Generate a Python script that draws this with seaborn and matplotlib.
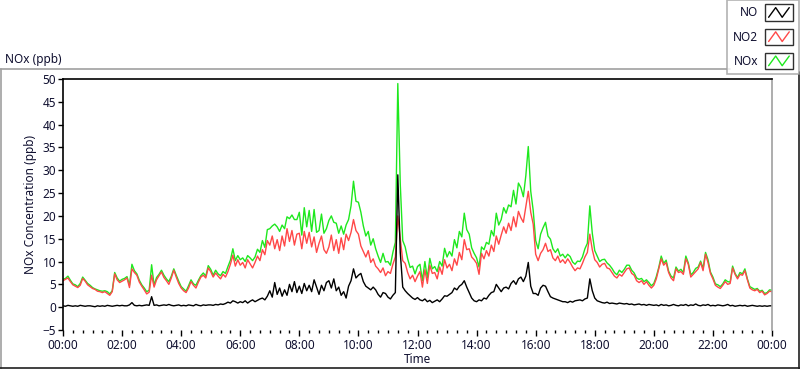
import numpy as np
import pandas as pd
import matplotlib
matplotlib.use("Agg")
import matplotlib.pyplot as plt
import seaborn as sns
from matplotlib.lines import Line2D
from matplotlib.patches import Rectangle
from matplotlib.legend_handler import HandlerBase
from matplotlib.ticker import MultipleLocator, FuncFormatter

sns.set_style("white")
plt.rcParams['font.family'] = ['Noto Sans', 'DejaVu Sans']
plt.rcParams['font.size'] = 8.5

# 5-minute readings, one row per hour (00:00 .. 23:55) plus the closing 24:00 value
no2 = [
    5.8, 6.1, 6.4, 5.6, 4.9, 4.6, 4.3, 4.8, 6.3, 5.7, 4.9, 4.5,
    4.1, 3.9, 3.5, 3.4, 3.2, 3.4, 3.0, 2.6, 3.4, 7.3, 6.0, 5.4,
    5.7, 6.0, 6.4, 4.3, 8.4, 7.6, 7.0, 5.5, 4.6, 3.8, 2.9, 3.3,
    7.0, 4.4, 6.0, 6.9, 7.7, 6.5, 5.8, 5.0, 6.4, 8.1, 6.6, 5.2,
    4.2, 3.6, 3.2, 4.2, 5.6, 4.8, 4.2, 5.5, 6.6, 7.0, 6.4, 8.6,
    7.8, 6.6, 7.5, 6.8, 6.2, 7.2, 6.6, 7.8, 9.4, 11.4, 9.0, 10.4,
    9.2, 9.8, 8.6, 10.4, 9.5, 8.6, 9.8, 11.2, 10.2, 12.6, 11.5, 14.6,
    13.6, 15.6, 12.8, 14.8, 12.4, 15.6, 13.4, 17.2, 14.4, 16.8, 13.6, 16.0,
    16.2, 12.8, 16.6, 14.0, 16.4, 13.2, 15.4, 12.0, 14.0, 15.6, 12.6, 11.8,
    13.2, 15.8, 12.4, 14.8, 11.8, 15.2, 12.6, 16.0, 14.6, 16.4, 19.2, 16.8,
    16.0, 13.4, 12.2, 11.0, 12.4, 9.8, 10.6, 9.0, 8.4, 7.6, 8.6, 6.9,
    7.8, 7.4, 9.4, 11.0, 20.0, 15.0, 10.2, 9.6, 7.6, 6.2, 7.0, 5.6,
    6.8, 7.8, 4.4, 8.2, 5.2, 9.2, 7.4, 7.6, 6.2, 8.8, 7.2, 10.4,
    8.6, 9.4, 8.0, 10.6, 9.2, 12.0, 10.4, 14.8, 12.6, 12.8, 11.0, 10.4,
    9.6, 7.2, 11.8, 10.6, 12.4, 11.2, 13.6, 12.2, 15.6, 13.8, 15.8, 17.6,
    16.2, 18.4, 16.8, 19.8, 17.6, 21.0, 19.6, 18.6, 22.0, 25.4, 20.8, 18.2,
    11.6, 10.2, 11.8, 12.6, 14.0, 12.2, 12.6, 10.8, 10.2, 11.2, 9.8, 10.4,
    9.6, 10.6, 9.8, 8.8, 8.0, 8.6, 8.4, 9.6, 11.0, 12.0, 16.0, 12.6,
    10.4, 9.8, 8.8, 9.4, 9.6, 8.6, 8.4, 7.6, 6.8, 6.4, 7.2, 6.8,
    7.6, 8.4, 8.6, 7.4, 7.0, 5.8, 5.4, 5.8, 5.0, 5.6, 4.8, 4.2,
    4.8, 6.2, 8.4, 10.6, 9.2, 9.8, 7.6, 6.4, 5.8, 8.4, 7.6, 7.8,
    7.2, 10.6, 9.4, 6.6, 7.2, 7.8, 8.4, 9.8, 8.0, 11.6, 9.8, 7.4,
    6.2, 4.8, 4.4, 4.1, 4.8, 5.6, 5.0, 5.2, 8.6, 7.2, 6.2, 7.2,
    7.0, 8.0, 6.0, 4.2, 3.8, 3.6, 3.9, 3.2, 3.5, 2.7, 3.0, 3.5,
    3.4,
]

no = [
    0.3, 0.2, 0.4, 0.3, 0.2, 0.3, 0.2, 0.4, 0.3, 0.2, 0.3, 0.3,
    0.2, 0.1, 0.3, 0.2, 0.3, 0.2, 0.4, 0.3, 0.2, 0.3, 0.4, 0.3,
    0.4, 0.3, 0.3, 0.5, 1.0, 0.4, 0.3, 0.4, 0.3, 0.4, 0.5, 0.4,
    2.3, 0.4, 0.5, 0.3, 0.4, 0.5, 0.4, 0.6, 0.4, 0.3, 0.4, 0.5,
    0.3, 0.4, 0.3, 0.5, 0.4, 0.3, 0.6, 0.4, 0.3, 0.5, 0.4, 0.5,
    0.5, 0.4, 0.6, 0.5, 0.7, 0.6, 0.8, 1.1, 0.9, 1.4, 1.2, 0.9,
    1.2, 1.0, 1.4, 0.9, 1.3, 1.6, 1.2, 1.5, 1.8, 2.0, 1.6, 2.4,
    3.6, 2.2, 5.4, 2.8, 4.2, 2.4, 3.8, 2.6, 5.0, 3.4, 5.6, 3.2,
    4.6, 3.0, 5.2, 3.6, 4.8, 3.4, 6.0, 4.4, 2.8, 4.8, 3.6, 5.4,
    5.8, 4.2, 6.2, 3.6, 4.4, 2.6, 3.4, 2.0, 4.6, 5.8, 8.4, 6.4,
    7.0, 7.4, 5.6, 4.6, 4.2, 3.8, 4.4, 3.8, 2.8, 2.2, 3.2, 3.0,
    2.2, 1.8, 2.6, 3.2, 29.0, 12.0, 4.4, 3.6, 3.0, 2.5, 2.0, 1.7,
    2.1, 1.6, 1.4, 1.8, 1.2, 1.5, 1.0, 1.3, 1.6, 1.2, 1.8, 2.5,
    2.4, 2.8, 3.2, 4.2, 3.8, 4.6, 5.0, 5.8, 4.4, 3.2, 2.0, 1.4,
    1.2, 1.6, 1.4, 2.0, 1.8, 2.6, 3.2, 3.4, 5.0, 4.2, 3.4, 4.2,
    4.4, 4.0, 5.2, 5.8, 5.0, 6.2, 6.6, 5.6, 6.8, 9.8, 4.6, 3.0,
    3.0, 2.6, 4.2, 4.8, 4.6, 3.4, 2.3, 2.0, 1.8, 1.6, 1.4, 1.2,
    1.2, 1.0, 1.3, 1.1, 1.4, 1.5, 1.6, 1.4, 1.8, 2.0, 6.2, 3.6,
    2.0, 1.4, 1.2, 1.0, 0.9, 1.1, 0.8, 0.9, 0.8, 0.7, 0.9, 0.8,
    0.7, 0.8, 0.6, 0.7, 0.5, 0.6, 0.7, 0.5, 0.6, 0.4, 0.6, 0.5,
    0.4, 0.5, 0.3, 0.6, 0.4, 0.5, 0.3, 0.4, 0.6, 0.4, 0.3, 0.5,
    0.4, 0.6, 0.3, 0.5, 0.4, 0.7, 0.4, 0.3, 0.5, 0.4, 0.6, 0.3,
    0.4, 0.3, 0.5, 0.4, 0.3, 0.4, 0.6, 0.3, 0.4, 0.2, 0.3, 0.4,
    0.3, 0.4, 0.2, 0.3, 0.4, 0.3, 0.2, 0.3, 0.2, 0.3, 0.2, 0.3,
    0.3,
]

hours = np.arange(len(no2)) * 5 / 60.0
# NOx is by definition NO + NO2
nox = np.round(np.array(no) + np.array(no2), 2)

series_names = ["NO", "NO2", "NOx"]
colors = {"NO": "#000000", "NO2": "#ff4848", "NOx": "#1ee81e"}

df = pd.concat([
    pd.DataFrame({"hours": hours, "value": no, "series": "NO"}),
    pd.DataFrame({"hours": hours, "value": no2, "series": "NO2"}),
    pd.DataFrame({"hours": hours, "value": nox, "series": "NOx"}),
])

fig = plt.figure(figsize=(8.0, 3.69), dpi=100)
fig.patch.set_facecolor("white")
W, H = 800.0, 369.0
ax = fig.add_axes([63 / W, 1 - 330 / H, (772 - 63) / W, (330 - 79) / H])

# NOx first, NO2 over it, NO on top
sns.lineplot(data=df, x="hours", y="value", hue="series",
             hue_order=["NOx", "NO2", "NO"], palette=colors,
             linewidth=1, legend=False, ax=ax, estimator=None)

ax.set_xlim(0, 24)
ax.set_ylim(-5, 50)
ax.yaxis.set_major_locator(MultipleLocator(5))
ax.xaxis.set_major_locator(MultipleLocator(2))
ax.xaxis.set_minor_locator(MultipleLocator(1 / 3))
ax.xaxis.set_major_formatter(FuncFormatter(lambda v, p: "%02d:00" % (int(round(v)) % 24)))

txt = "#101030"
ax.tick_params(axis="y", which="major", direction="out", length=3.5, width=1,
               color="black", labelcolor=txt, pad=1.5, left=True)
ax.tick_params(axis="x", which="major", direction="out", length=4, width=1,
               color="black", labelcolor=txt, pad=2.5, bottom=True)
ax.tick_params(axis="x", which="minor", direction="out", length=2.5, width=1,
               color="black", bottom=True)

ax.spines["top"].set_color("black")
ax.spines["left"].set_color("black")
ax.spines["right"].set_color("#a0a0a0")
ax.spines["bottom"].set_visible(False)
for s in ["top", "left", "right"]:
    ax.spines[s].set_linewidth(1.2)

ax.set_xlabel("Time", color=txt, labelpad=1)
ax.set_ylabel("NOx Concentration (ppb)", color=txt, labelpad=4)
ax.grid(False)

# outer panel frame and caption
def px_line(x0, y0, x1, y1, color, lw=1.2):
    fig.add_artist(Line2D([x0 / W, x1 / W], [1 - y0 / H, 1 - y1 / H],
                          color=color, lw=lw, transform=fig.transFigure))

px_line(0, 69, 730, 69, "#a0a0a0")
px_line(0.6, 69, 0.6, 369, "#a0a0a0")
px_line(0, 367.5, 800, 367.5, "#202020")
px_line(799.4, 72, 799.4, 369, "#202020")
fig.text(5 / W, 1 - 60 / H, "NOx (ppb)", color=txt, va="center", ha="left")


class ZigzagHandler(HandlerBase):
    def create_artists(self, legend, orig_handle, xdescent, ydescent,
                       width, height, fontsize, trans):
        x0, y0 = -xdescent, -ydescent
        box = Rectangle((x0, y0 - 2), width, height + 4, fill=False,
                        ec="#303030", lw=1, transform=trans)
        xs = x0 + np.array([0.12, 0.38, 0.62, 0.88]) * width
        ys = y0 - 2 + np.array([0.2, 0.8, 0.2, 0.8]) * (height + 4)
        zz = Line2D(xs, ys, color=orig_handle.get_color(), lw=1, transform=trans)
        return [box, zz]


handles = [Line2D([], [], color=colors[n]) for n in series_names]
leg = fig.legend(handles, series_names, handler_map={Line2D: ZigzagHandler()},
                 loc="upper right", bbox_to_anchor=(799 / W, 1.0),
                 markerfirst=False, frameon=True, fancybox=False,
                 edgecolor="#a0a0a0", borderpad=0.55, labelspacing=0.95,
                 handlelength=2.3, handleheight=1.0, handletextpad=0.6,
                 borderaxespad=0.0, prop={"size": 8.5})
for t in leg.get_texts():
    t.set_color(txt)
leg.get_frame().set_linewidth(1.2)

fig.savefig("out.png", dpi=100, facecolor="white")
